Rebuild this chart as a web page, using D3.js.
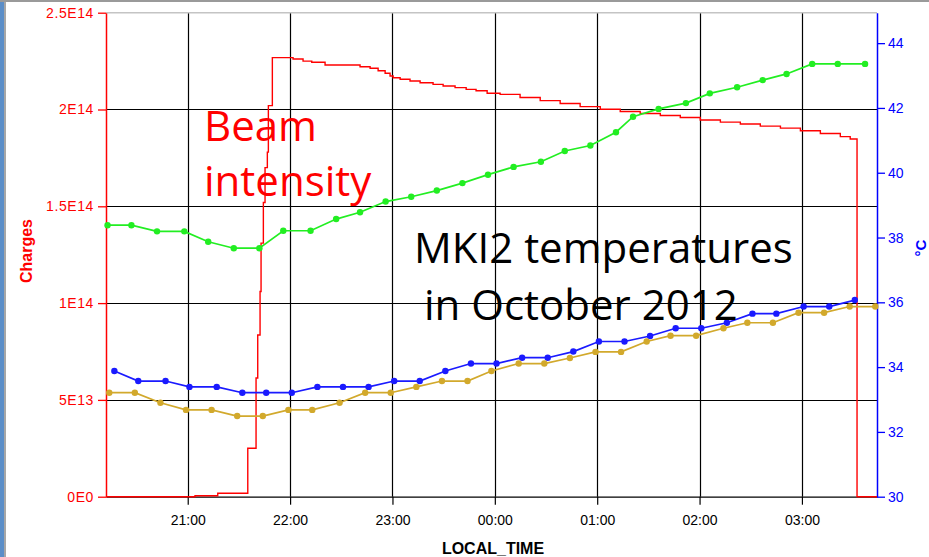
<!DOCTYPE html>
<html>
<head>
<meta charset="utf-8">
<script src="https://cdn.jsdelivr.net/npm/d3@7"></script>
<style>
  html, body { margin: 0; padding: 0; background: #ffffff; }
  svg { display: block; }
</style>
</head>
<body>
<svg id="chart" width="929" height="557"></svg>
<script>
// ---------------- DATA ----------------
const xDomain = ["20:12:06", "03:44:00"];
const leftTicks = [0, 5e13, 1e14, 1.5e14, 2e14, 2.5e14];
const leftTickLabels = ["0E0", "5E13", "1E14", "1.5E14", "2E14", "2.5E14"];
const rightDomain = [30, 44.94];
const rightTicks = [30, 32, 34, 36, 38, 40, 42, 44];

const beamTimes = ["20:12:06","21:04:16","21:17:36","21:35:12","21:40:03","21:41:02","21:42:24","21:42:59","21:44:20","21:45:19","21:46:40","21:47:16","21:49:36","22:01:44","22:07:36","22:12:42","22:20:30","22:41:00","22:46:54","22:51:36","22:55:42","22:58:36","23:00:24","23:04:30","23:10:18","23:16:12","23:23:48","23:29:42","23:36:42","23:43:12","23:49:00","23:55:30","00:03:06","00:14:48","00:26:36","00:38:18","00:50:00","01:01:48","01:13:30","01:25:12","01:37:00","01:48:42","02:00:24","02:12:12","02:23:54","02:35:36","02:47:24","02:59:06","03:10:48","03:22:30","03:28:18","03:32:18","03:44:00"];
const beamValues = [0,5e11,1.76e12,2.5e13,6.13e13,8.35e13,1.06e14,1.31e14,1.52e14,1.70e14,1.78e14,2.02e14,2.268e14,2.261e14,2.250e14,2.244e14,2.230e14,2.221e14,2.213e14,2.200e14,2.187e14,2.173e14,2.164e14,2.156e14,2.147e14,2.138e14,2.130e14,2.121e14,2.113e14,2.104e14,2.097e14,2.084e14,2.078e14,2.062e14,2.046e14,2.031e14,2.015e14,2.001e14,1.990e14,1.979e14,1.969e14,1.959e14,1.946e14,1.935e14,1.925e14,1.914e14,1.904e14,1.890e14,1.876e14,1.860e14,1.848e14,0,0];

const greenTimes = ["20:13","20:27","20:42","20:58","21:12","21:27","21:42","21:56","22:12","22:27","22:41","22:56","23:11","23:26","23:41","23:56","00:11","00:27","00:41","00:56","01:11","01:21","01:36","01:52","02:06","02:22","02:37","02:51","03:06","03:21","03:37"];
const greenValues = [38.38,38.38,38.19,38.19,37.87,37.67,37.67,38.21,38.21,38.57,38.78,39.11,39.26,39.45,39.68,39.94,40.18,40.34,40.67,40.84,41.25,41.73,41.97,42.15,42.45,42.64,42.86,43.05,43.36,43.36,43.36];

const blueTimes = ["20:17","20:31","20:47","21:01","21:17","21:32","21:46","22:01","22:16","22:31","22:46","23:01","23:16","23:31","23:46","00:01","00:16","00:31","00:46","01:01","01:16","01:31","01:46","02:01","02:16","02:31","02:45","03:01","03:16","03:31"];
const blueValues = [33.88,33.57,33.57,33.39,33.39,33.21,33.21,33.21,33.39,33.39,33.39,33.57,33.57,33.88,34.11,34.11,34.29,34.29,34.48,34.79,34.79,34.96,35.20,35.20,35.37,35.65,35.65,35.87,35.87,36.07];

const goldTimes = ["20:14","20:29","20:44","20:59","21:14","21:29","21:44","21:59","22:13","22:29","22:44","22:59","23:14","23:29","23:44","23:58","00:14","00:29","00:44","00:59","01:14","01:29","01:43","01:58","02:14","02:28","02:43","02:58","03:13","03:28","03:43"];
const goldValues = [33.21,33.21,32.90,32.68,32.68,32.49,32.49,32.68,32.68,32.90,33.21,33.21,33.39,33.57,33.57,33.88,34.11,34.11,34.28,34.47,34.47,34.79,34.97,34.97,35.20,35.37,35.37,35.68,35.68,35.87,35.87];

// ---------------- HELPERS ----------------
function toDate(s) {
  const p = s.split(":").map(Number);
  const day = p[0] < 12 ? 21 : 20; // night of 20/21 October 2012
  return new Date(2012, 9, day, p[0], p[1], p[2] || 0);
}
const zip = (ts, vs) => ts.map((t, i) => ({ t: toDate(t), v: vs[i] }));

// ---------------- LAYOUT ----------------
const W = 929, H = 557;
const margin = { top: 12.7, right: 52, bottom: 60.3, left: 106 };
const x0 = margin.left, x1 = W - margin.right, yTop = margin.top, yBot = H - margin.bottom;

const svg = d3.select("#chart");

// slide frame decorations
svg.append("rect").attr("x", 0).attr("y", 0).attr("width", 4).attr("height", H).attr("fill", "#5b8ec8");
svg.append("line").attr("x1", 5).attr("x2", 5).attr("y1", 0).attr("y2", H).attr("stroke", "#8a8a8a").attr("stroke-width", 1.5);
svg.append("line").attr("x1", 0).attr("x2", W).attr("y1", 1).attr("y2", 1).attr("stroke", "#9a9a9a").attr("stroke-width", 2);

const x = d3.scaleTime().domain(xDomain.map(toDate)).range([x0, x1]);
const yL = d3.scaleLinear().domain([0, 2.5e14]).range([yBot, yTop]);
const yR = d3.scaleLinear().domain(rightDomain).range([yBot, yTop]);

const hourTicks = x.ticks(d3.timeHour.every(1));

// grid
const grid = svg.append("g");
grid.selectAll("line.v").data(hourTicks).join("line")
  .attr("x1", d => Math.round(x(d)) + 0.5).attr("x2", d => Math.round(x(d)) + 0.5)
  .attr("y1", yTop).attr("y2", yBot)
  .attr("stroke", "#000").attr("stroke-width", 1.2);
grid.selectAll("line.h").data(leftTicks.filter(d => d > 0 && d < 2.5e14)).join("line")
  .attr("x1", x0).attr("x2", x1)
  .attr("y1", d => Math.round(yL(d)) + 0.5).attr("y2", d => Math.round(yL(d)) + 0.5)
  .attr("stroke", "#000").attr("stroke-width", 1.2);
// top border
svg.append("line").attr("x1", x0).attr("x2", x1).attr("y1", yTop).attr("y2", yTop)
  .attr("stroke", "#c4c4c4").attr("stroke-width", 1.5);

const tickFont = "'Liberation Sans', Arial, sans-serif";

// bottom axis
const gx = svg.append("g").attr("transform", `translate(0,${yBot})`)
  .call(d3.axisBottom(x).tickValues(hourTicks).tickFormat(d3.timeFormat("%H:%M")).tickSize(8).tickSizeOuter(0).tickPadding(10));
gx.select(".domain").attr("stroke", "#000").attr("stroke-width", 1.3);
gx.selectAll(".tick line").attr("stroke", "#000").attr("stroke-width", 1.2);
gx.selectAll(".tick text").attr("fill", "#000").style("font-family", tickFont).style("font-size", "14px");

// left axis
const gl = svg.append("g").attr("transform", `translate(${x0},0)`)
  .call(d3.axisLeft(yL).tickValues(leftTicks).tickFormat((d, i) => leftTickLabels[i]).tickSize(8).tickSizeOuter(0).tickPadding(4));
gl.select(".domain").attr("stroke", "#ff0000").attr("stroke-width", 1.5);
gl.selectAll(".tick line").attr("stroke", "#ff0000").attr("stroke-width", 1.3);
gl.selectAll(".tick text").attr("fill", "#ff0000").style("font-family", tickFont).style("font-size", "14px")
  .style("letter-spacing", "0.6px");

// right axis
const gr = svg.append("g").attr("transform", `translate(${x1},0)`)
  .call(d3.axisRight(yR).tickValues(rightTicks).tickSize(8).tickSizeOuter(0).tickPadding(3));
gr.select(".domain").attr("stroke", "#0000ff").attr("stroke-width", 1.5);
gr.selectAll(".tick line").attr("stroke", "#0000ff").attr("stroke-width", 1.3);
gr.selectAll(".tick text").attr("fill", "#0000ff").style("font-family", tickFont).style("font-size", "14px");

// axis titles
svg.append("text").attr("transform", `translate(32,251) rotate(-90)`)
  .attr("text-anchor", "middle").attr("fill", "#ff0000")
  .style("font-family", tickFont).style("font-size", "16px").style("font-weight", "bold")
  .text("Charges");
svg.append("text").attr("transform", `translate(926,248) rotate(-90)`)
  .attr("text-anchor", "middle").attr("fill", "#0000ff")
  .style("font-family", tickFont).style("font-size", "15px").style("font-weight", "bold")
  .text("°C");
svg.append("text").attr("x", 493).attr("y", 554)
  .attr("text-anchor", "middle").attr("fill", "#000")
  .style("font-family", tickFont).style("font-size", "16px").style("font-weight", "bold")
  .text("LOCAL_TIME");

// beam intensity (step line)
const beam = zip(beamTimes, beamValues);
svg.append("path").datum(beam)
  .attr("fill", "none").attr("stroke", "#ff0000").attr("stroke-width", 1.4)
  .attr("d", d3.line().x(d => x(d.t)).y(d => yL(d.v)).curve(d3.curveStepAfter));

// temperature series
const temps = [
  { data: zip(greenTimes, greenValues), color: "#22ee22" },
  { data: zip(blueTimes, blueValues), color: "#1a1aff" },
  { data: zip(goldTimes, goldValues), color: "#d2a92c" }
];
temps.forEach(s => {
  const g = svg.append("g");
  g.append("path").datum(s.data)
    .attr("fill", "none").attr("stroke", s.color).attr("stroke-width", 1.7)
    .attr("d", d3.line().x(d => x(d.t)).y(d => yR(d.v)));
  g.selectAll("circle").data(s.data).join("circle")
    .attr("cx", d => x(d.t)).attr("cy", d => yR(d.v)).attr("r", 3.2)
    .attr("fill", s.color);
});

// annotations
const annFont = "'Open Sans', 'Noto Sans', sans-serif";
const beamTxt = svg.append("text").attr("fill", "#ff0000")
  .style("font-family", annFont).style("font-size", "42px");
beamTxt.append("tspan").attr("x", 204).attr("y", 141).text("Beam");
beamTxt.append("tspan").attr("x", 204).attr("y", 196).text("intensity");

const mkiTxt = svg.append("text").attr("fill", "#000")
  .style("font-family", annFont).style("font-size", "42px");
mkiTxt.append("tspan").attr("x", 414).attr("y", 263).text("MKI2 temperatures");
mkiTxt.append("tspan").attr("x", 424).attr("y", 320).text("in October 2012");
</script>
</body>
</html>
